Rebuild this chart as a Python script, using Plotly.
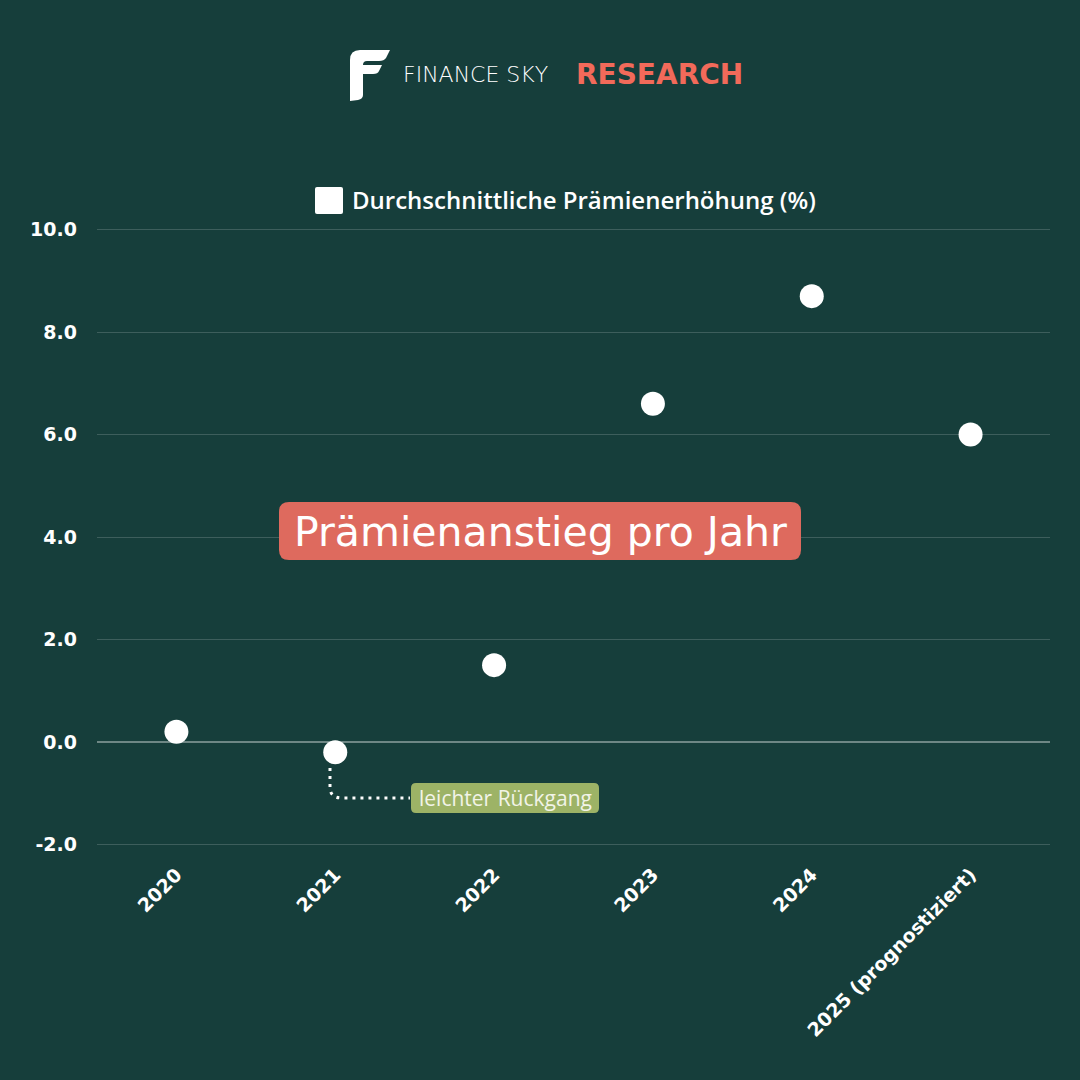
import plotly.graph_objects as go

# ---------------- data ----------------
categories = ["2020", "2021", "2022", "2023", "2024", "2025 (prognostiziert)"]
values = [0.2, -0.2, 1.5, 6.6, 8.7, 6.0]
series_name = "Durchschnittliche Prämienerhöhung (%)"
y_ticks = [-2, 0, 2, 4, 6, 8, 10]
chart_title = "Prämienanstieg pro Jahr"
note_text = "leichter Rückgang"
brand_main = "FINANCE SKY"
brand_accent = "RESEARCH"

# ---------------- layout geometry ----------------
W = H = 1080
L, R, T, B = 97, 30, 209, 215
PW = W - L - R
PH = H - T - B
BG = "#163e3b"
CORAL = "#de6a5e"
GREEN = "#9db366"


def px(x):
    return (x - L) / PW


def py(y):
    return (H - B - y) / PH


def rounded_rect(x0, y0, x1, y1, r):
    pts = [
        f"M {px(x0 + r)},{py(y0)}",
        f"L {px(x1 - r)},{py(y0)}",
        f"Q {px(x1)},{py(y0)} {px(x1)},{py(y0 + r)}",
        f"L {px(x1)},{py(y1 - r)}",
        f"Q {px(x1)},{py(y1)} {px(x1 - r)},{py(y1)}",
        f"L {px(x0 + r)},{py(y1)}",
        f"Q {px(x0)},{py(y1)} {px(x0)},{py(y1 - r)}",
        f"L {px(x0)},{py(y0 + r)}",
        f"Q {px(x0)},{py(y0)} {px(x0 + r)},{py(y0)}",
        "Z",
    ]
    return " ".join(pts)


def path_px(cmds):
    out = []
    for c in cmds:
        if isinstance(c, str):
            out.append(c)
        else:
            out.append(f"{px(c[0])},{py(c[1])}")
    return " ".join(out)


x_idx = list(range(len(categories)))

fig = go.Figure()
fig.add_trace(go.Scatter(
    x=x_idx, y=values, mode="markers", name=series_name, showlegend=False,
    marker=dict(size=24, color="white", line=dict(width=0)),
    cliponaxis=False,
))

shapes = []
annotations = []

# title box
shapes.append(dict(type="path", xref="paper", yref="paper",
                   path=rounded_rect(279, 502, 801, 560, 10),
                   fillcolor=CORAL, line=dict(width=0), layer="above"))
annotations.append(dict(xref="paper", yref="paper", x=px(540), y=py(532),
                        text=chart_title, showarrow=False,
                        font=dict(family="DejaVu Sans", size=41, color="white"),
                        xanchor="center", yanchor="middle"))

# note box + dotted connector
shapes.append(dict(type="path", xref="paper", yref="paper",
                   path=path_px(["M", (330, 768), "L", (330, 787), "Q", (330, 798),
                                 (342, 798), "L", (410, 798)]),
                   line=dict(color="white", width=3, dash="3px,5px"), layer="above"))
shapes.append(dict(type="path", xref="paper", yref="paper",
                   path=rounded_rect(411, 783, 599, 813, 5),
                   fillcolor=GREEN, line=dict(width=0), layer="above"))
annotations.append(dict(xref="paper", yref="paper", x=px(505), y=py(798),
                        text=note_text, showarrow=False,
                        font=dict(family="Open Sans", size=21, color="#f2f4e8"),
                        xanchor="center", yanchor="middle"))

# legend (manual)
shapes.append(dict(type="path", xref="paper", yref="paper",
                   path=rounded_rect(315, 187, 343, 214, 2),
                   fillcolor="white", line=dict(width=0)))
annotations.append(dict(xref="paper", yref="paper", x=px(350), y=py(199),
                        text=series_name, showarrow=False,
                        font=dict(family="Open Sans", size=24, color="white", weight=600),
                        xanchor="left", yanchor="middle"))

# brand logo icon
shapes.append(dict(type="path", xref="paper", yref="paper",
                   path=path_px(["M", (350, 101), "L", (350, 60), "Q", (350, 50), (360, 50),
                                 "L", (390, 50), "L", (386, 58), "Q", (384, 61), (379, 61),
                                 "L", (367, 61), "Q", (363, 61), (363, 65),
                                 "L", (382, 65), "L", (379, 71), "Q", (378, 74), (373, 74),
                                 "L", (363, 74), "L", (363, 95), "Q", (363, 99), (358, 100),
                                 "L", (350, 101), "Z"]),
                   fillcolor="white", line=dict(width=0)))
annotations.append(dict(xref="paper", yref="paper", x=px(401), y=py(75),
                        text=brand_main, showarrow=False,
                        font=dict(family="DejaVu Sans", size=22, color="white", weight=300),
                        xanchor="left", yanchor="middle"))
annotations.append(dict(xref="paper", yref="paper", x=px(574), y=py(75),
                        text=brand_accent, showarrow=False,
                        font=dict(family="DejaVu Sans", size=28, color="#f26a5a", weight="bold"),
                        xanchor="left", yanchor="middle"))

fig.update_layout(
    width=W, height=H,
    margin=dict(l=L, r=R, t=T, b=B),
    paper_bgcolor=BG, plot_bgcolor=BG,
    shapes=shapes, annotations=annotations,
    showlegend=False,
)
fig.update_xaxes(
    range=[-0.5, len(categories) - 0.5],
    tickvals=x_idx, ticktext=categories, tickangle=-45,
    showgrid=False, zeroline=False, showline=False, ticks="",
    ticklabelstandoff=-6,
    tickfont=dict(family="DejaVu Sans", size=19, color="white", weight="bold"),
)
fig.update_yaxes(
    range=[-2.4, 10.4], tickvals=y_ticks, ticktext=[f"{v:.1f}" for v in y_ticks],
    showgrid=True, gridcolor="rgba(255,255,255,0.17)", gridwidth=1,
    zeroline=True, zerolinecolor="rgba(255,255,255,0.38)", zerolinewidth=2,
    showline=False, ticks="", ticklabelstandoff=19,
    tickfont=dict(family="DejaVu Sans", size=19, color="white", weight="bold"),
)

fig.write_html("out.html", config={"displayModeBar": False},
               post_script="document.body.style.margin='0';")
